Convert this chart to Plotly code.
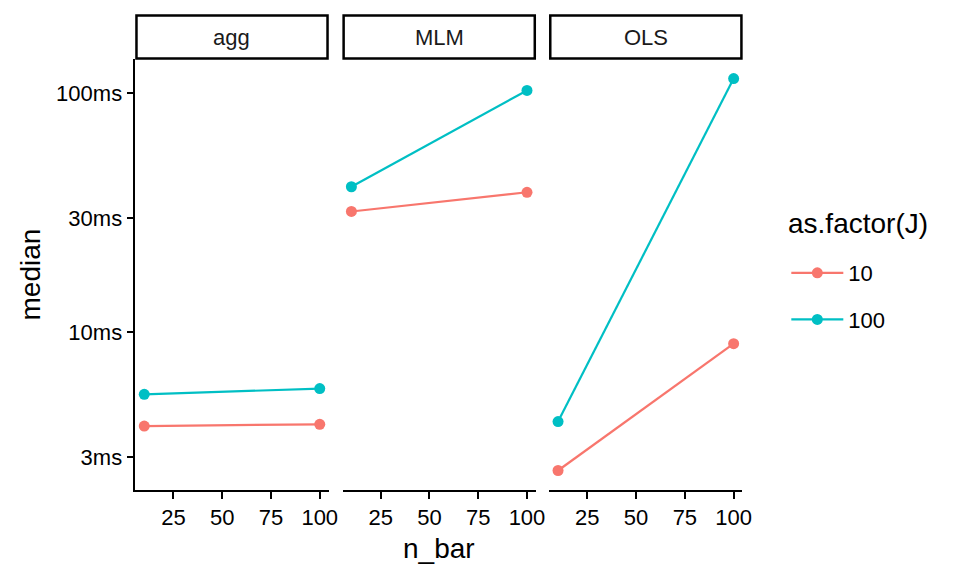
import plotly.graph_objects as go

# ---- data ----
facets = ["agg", "MLM", "OLS"]
n_bar = [10, 100]
J_levels = ["10", "100"]
median_J10 = {"agg": [4.05, 4.12], "MLM": [32.0, 38.5], "OLS": [2.64, 8.96]}
median_J100 = {"agg": [5.50, 5.81], "MLM": [40.6, 102.7], "OLS": [4.23, 115.1]}
y_tickvals = [3, 10, 30, 100]
y_ticktext = ["3ms", "10ms", "30ms", "100ms"]
x_tickvals = [25, 50, 75, 100]

colors = {"10": "#F8766D", "100": "#00BFC4"}
OFF = 8  # page body margin
W, H = 960 - 2 * OFF, 576 - 2 * OFF
FONT = "Liberation Sans"
SX, BX = 0.9907, 7.5  # observed horizontal screen mapping


def fx(px):
    return ((px - BX) / SX) / W


def fy(py):
    return 1 - (py - OFF) / H


panels_px = [(135.0, 328.1), (342.2, 535.4), (548.9, 742.1)]
y_top_px, y_bot_px = 59.0, 490.0

fig = go.Figure()
series = {"10": median_J10, "100": median_J100}
for i, f in enumerate(facets):
    ax = "" if i == 0 else str(i + 1)
    for j in J_levels:
        fig.add_trace(go.Scatter(
            x=n_bar, y=series[j][f], mode="lines+markers",
            line=dict(color=colors[j], width=2.2),
            marker=dict(color=colors[j], size=11),
            name=j, legendgroup=j, showlegend=(i == 0),
            xaxis="x" + ax, yaxis="y" + ax,
        ))

layout = dict(
    width=W, height=H, margin=dict(l=0, r=0, t=0, b=0),
    paper_bgcolor="white", plot_bgcolor="white",
    font=dict(family=FONT, color="black", size=22),
    showlegend=True,
    legend=dict(
        font=dict(size=22, family=FONT),
        x=fx(786), y=fy(252), xanchor="left", yanchor="top",
        tracegroupgap=15, traceorder="grouped", itemwidth=52,
        bgcolor="rgba(0,0,0,0)",
    ),
)
shapes = []
ydom = [fy(y_bot_px), fy(y_top_px)]
for i, (x0, x1) in enumerate(panels_px):
    key = "" if i == 0 else str(i + 1)
    layout["xaxis" + key] = dict(
        domain=[fx(x0), fx(x1)], range=[5.5, 104.5],
        anchor="y" + key, showline=True, linecolor="black", linewidth=1.8,
        ticks="outside", ticklen=7, tickwidth=1.8, tickcolor="black",
        tickvals=x_tickvals, showgrid=False, zeroline=False,
        tickfont=dict(size=22, family=FONT, color="black"),
    )
    ya = dict(
        domain=ydom, type="log", range=[0.340, 2.143],
        anchor="x" + key, showgrid=False, zeroline=False,
    )
    if i == 0:
        ya.update(showline=True, linecolor="black", linewidth=1.8,
                  ticks="outside", ticklen=7, tickwidth=1.8, tickcolor="black",
                  tickvals=y_tickvals, ticktext=y_ticktext,
                  tickfont=dict(size=22, family=FONT, color="black"))
    else:
        ya.update(showline=False, showticklabels=False, ticks="", matches="y")
    layout["yaxis" + key] = ya
    shapes.append(dict(type="rect", xref="paper", yref="paper",
                       x0=fx(x0 + 1), x1=fx(x1 - 1),
                       y0=fy(58.5), y1=fy(15.5),
                       line=dict(color="black", width=2.5), fillcolor="white"))

annotations = []
for i, (x0, x1) in enumerate(panels_px):
    annotations.append(dict(text=facets[i], x=fx((x0 + x1) / 2), y=fy(37),
                            xref="paper", yref="paper", showarrow=False,
                            xanchor="center", yanchor="middle",
                            font=dict(size=22, family=FONT, color="#1a1a1a")))
annotations.append(dict(text="median", x=fx(30), y=fy(274), xref="paper", yref="paper",
                        showarrow=False, textangle=-90, xanchor="center", yanchor="middle",
                        font=dict(size=28, family=FONT, color="black")))
annotations.append(dict(text="n_bar", x=fx(438.5), y=fy(548), xref="paper", yref="paper",
                        showarrow=False, xanchor="center", yanchor="middle",
                        font=dict(size=28, family=FONT, color="black")))
annotations.append(dict(text="as.factor(J)", x=fx(786), y=fy(224), xref="paper", yref="paper",
                        showarrow=False, xanchor="left", yanchor="middle",
                        font=dict(size=28, family=FONT, color="black")))
layout["shapes"] = shapes
layout["annotations"] = annotations
fig.update_layout(**layout)
fig.write_html("out.html")
